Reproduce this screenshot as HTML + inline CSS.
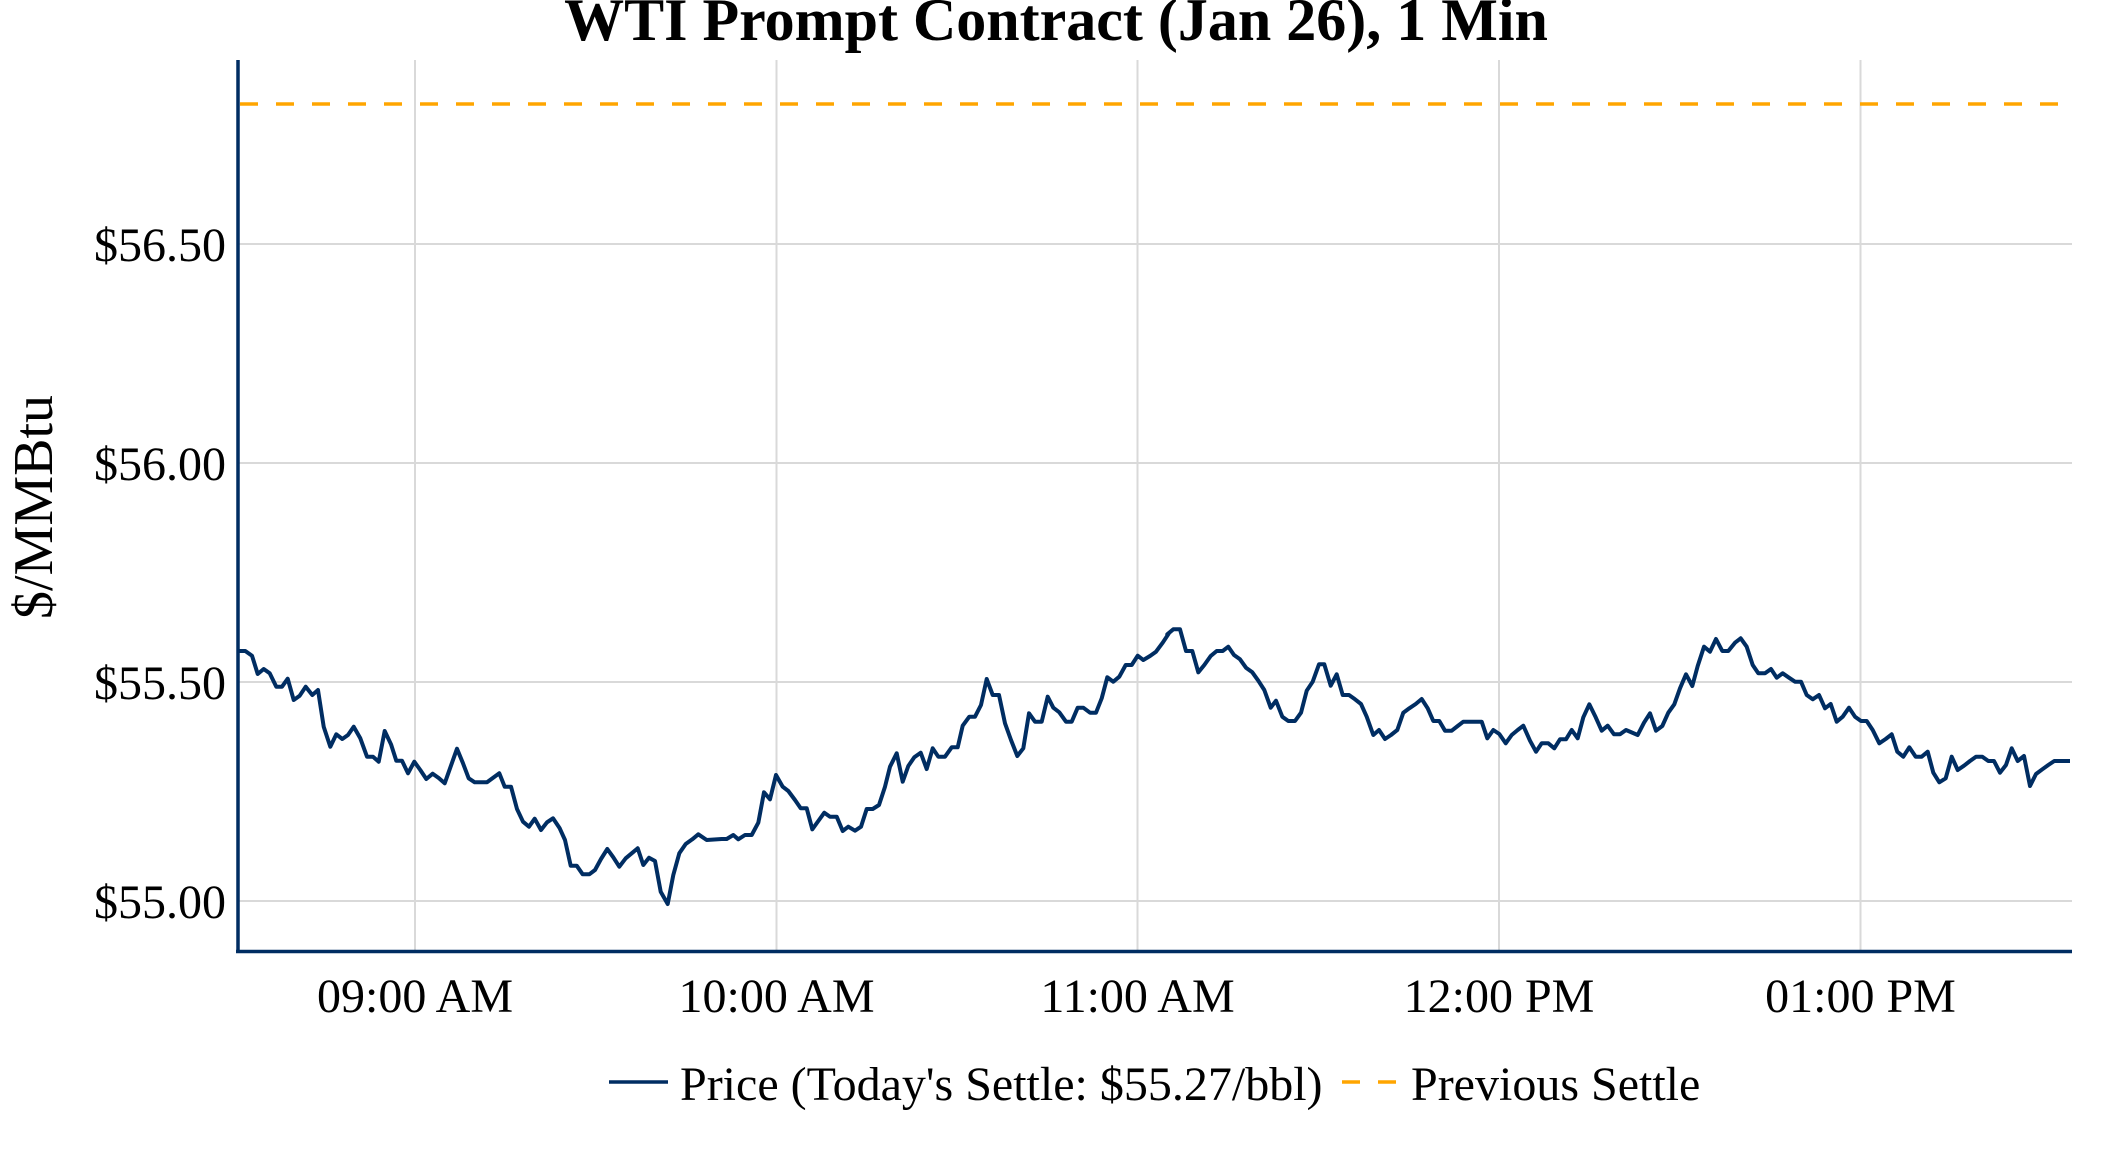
<!DOCTYPE html>
<html><head><meta charset="utf-8"><style>
html,body{margin:0;padding:0;background:#fff;}
svg{display:block;font-family:"Liberation Serif",serif;}
</style></head><body>
<svg id="s" width="2112" height="1152" viewBox="0 0 2112 1152" xmlns="http://www.w3.org/2000/svg">
<g stroke="#d9d9d9" stroke-width="2">
<line x1="415" y1="60" x2="415" y2="951"/>
<line x1="776.5" y1="60" x2="776.5" y2="951"/>
<line x1="1137.5" y1="60" x2="1137.5" y2="951"/>
<line x1="1499" y1="60" x2="1499" y2="951"/>
<line x1="1860.5" y1="60" x2="1860.5" y2="951"/>
<line x1="238" y1="244" x2="2072" y2="244"/>
<line x1="238" y1="463" x2="2072" y2="463"/>
<line x1="238" y1="682" x2="2072" y2="682"/>
<line x1="238" y1="901" x2="2072" y2="901"/>
</g>
<line x1="240" y1="104" x2="2072" y2="104" stroke="#ffa500" stroke-width="3.5" stroke-dasharray="18,18"/>
<polyline id="p" fill="none" stroke="#002d62" stroke-width="4" stroke-linejoin="round"/>
<line x1="238" y1="60" x2="238" y2="953" stroke="#002d62" stroke-width="3.5"/>
<line x1="236" y1="951.5" x2="2072" y2="951.5" stroke="#002d62" stroke-width="3.5"/>
<text x="1056" y="40" text-anchor="middle" font-size="60" font-weight="bold">WTI Prompt Contract (Jan 26), 1 Min</text>
<g font-size="48" text-anchor="end">
<text x="226" y="261">$56.50</text>
<text x="226" y="480">$56.00</text>
<text x="226" y="699">$55.50</text>
<text x="226" y="918">$55.00</text>
</g>
<g font-size="48" text-anchor="middle">
<text x="415" y="1012">09:00 AM</text>
<text x="776.5" y="1012">10:00 AM</text>
<text x="1137.5" y="1012">11:00 AM</text>
<text x="1499" y="1012">12:00 PM</text>
<text x="1860.5" y="1012">01:00 PM</text>
</g>
<text transform="translate(52,507) rotate(-90)" font-size="56" text-anchor="middle">$/MMBtu</text>
<line x1="609" y1="1082" x2="668" y2="1082" stroke="#002d62" stroke-width="3.5"/>
<text x="680" y="1100" font-size="48">Price (Today's Settle: $55.27/bbl)</text>
<line x1="1342" y1="1082" x2="1398" y2="1082" stroke="#ffa500" stroke-width="3.5" stroke-dasharray="18,18"/>
<text x="1411" y="1100" font-size="48">Previous Settle</text>
</svg>
<script>
var segs=[
[237,580,[[5,213],[25,213],[45,227],[62,282],[80,267],[98,280],[118,320],[135,320],[152,296],[170,360],[188,347],[206,320],[226,345],[243,330],[260,440],[280,500],[298,463],[316,477],[333,465],[350,440],[370,475],[390,530],[408,530],[425,545],[443,453],[462,493],[478,542],[495,542],[513,580],[532,545],[550,570],[568,597],[587,581],[605,594],[623,610],[660,506],[678,550],[695,595],[713,607],[750,607],[787,580],[803,620],[822,620],[840,687],[858,725],[876,740],[893,716],[912,750],[930,727],[948,715],[968,745]]],
[540,780,[[75,180],[92,257],[110,257],[128,283],[148,283],[165,270],[183,237],[202,207],[220,232],[238,260],[257,235],[275,220],[293,205],[310,255],[327,233],[345,243],[362,335],[383,372],[400,285],[418,220],[437,192],[457,178],[475,163]]],
[700,580,[[20,780],[65,777],[80,777],[100,765],[115,778],[135,765],[155,765],[175,728],[192,637],[210,658],[228,585],[248,620],[265,633],[285,660],[302,685],[320,685],[337,748],[355,723],[373,698],[390,710],[410,710],[428,753],[445,740],[465,752],[483,740],[500,687],[518,687],[537,675],[555,620],[570,560],[590,520],[608,605],[625,558],[643,532],[662,518],[680,567],[698,505],[715,530],[735,530],[755,502],[773,502],[788,437],[808,410],[825,410],[843,375],[860,297],[878,345],[897,345],[915,430],[933,480],[952,528],[970,505],[987,400],[1005,425],[1025,425],[1043,350],[1060,383],[1078,397],[1098,425],[1115,425],[1133,383],[1150,383],[1170,398],[1188,398],[1205,355],[1222,292],[1240,305],[1258,290],[1277,255],[1295,255],[1313,227],[1330,240],[1350,228],[1368,215],[1388,188],[1408,158]]],
[1160,580,[[22,163],[40,148],[60,148],[78,213],[97,213],[115,277],[133,255],[152,228],[170,213],[188,213],[205,200],[222,225],[240,238],[258,263],[277,277],[295,302],[313,330],[332,383],[348,362],[367,410],[385,423],[405,423],[423,398],[440,332],[458,305],[477,253],[493,253],[512,317],[530,283],[548,345],[567,345],[585,358],[603,372],[620,410],[640,465],[657,450],[675,477],[693,465],[712,450],[730,398],[748,385],[767,372],[785,357],[803,385],[820,423],[838,423],[855,452],[875,452],[893,438],[910,425],[965,425],[982,475],[1000,450],[1018,462],[1037,490],[1055,465],[1073,450],[1090,437],[1110,482],[1128,515],[1145,490],[1165,490],[1183,505],[1200,478],[1218,478],[1235,450],[1253,475],[1270,412],[1288,373],[1307,412],[1325,452],[1343,437],[1362,463],[1380,463],[1398,450]]],
[1620,580,[[53,465],[72,428],[90,400],[108,452],[127,438],[145,398],[163,373],[180,325],[198,283],[217,318],[233,258],[252,200],[270,215],[288,177],[307,213],[325,213],[345,188],[362,175],[380,200],[398,255],[415,280],[435,280],[453,267],[470,293],[488,280],[507,293],[525,305],[543,305],[560,345],[578,358],[597,345],[615,385],[632,372],[650,425],[668,410],[687,383],[705,410],[723,423],[740,423],[758,450],[778,490],[797,477],[815,463],[832,515],[850,530],[868,502],[887,530],[905,530],[923,515],[940,578],[958,607],[977,595],[995,530],[1013,570],[1032,557],[1050,543],[1068,530],[1087,530],[1105,543],[1122,543],[1140,578],[1158,555],[1175,505],[1193,543],[1212,528],[1230,618],[1248,582],[1267,568],[1285,555],[1303,543],[1350,543]]]
];
var pts=[];
segs.forEach(function(s){s[2].forEach(function(p){pts.push((s[0]+p[0]/3).toFixed(1)+","+(s[1]+p[1]/3).toFixed(1));});});
document.getElementById("p").setAttribute("points",pts.join(" "));
</script>
</body></html>
